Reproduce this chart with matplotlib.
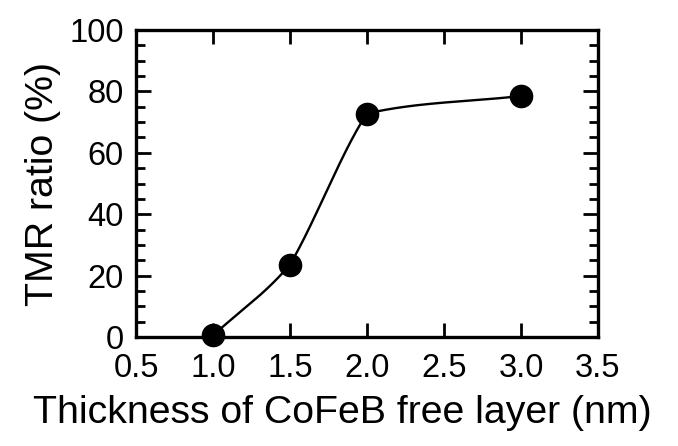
import numpy as np
import matplotlib
matplotlib.use('Agg')
import matplotlib.pyplot as plt
from matplotlib.ticker import MultipleLocator

# data
thickness = [1.0, 1.5, 2.0, 3.0]      # CoFeB free layer thickness (nm)
tmr_ratio = [0.5, 23.6, 72.8, 78.5]   # TMR ratio (%)


def smooth_curve(x, y, n=60, w=0.75):
    # piecewise cubic Hermite; one-sided tangents blended from secants
    x = np.asarray(x, float)
    y = np.asarray(y, float)
    sec = np.diff(y) / np.diff(x)
    xs, ys = [], []
    for i in range(len(x) - 1):
        m0 = sec[i] if i == 0 else w * sec[i] + (1 - w) * sec[i - 1]
        m1 = sec[i] if i == len(x) - 2 else w * sec[i] + (1 - w) * sec[i + 1]
        # keep the tangents from overshooting flat segments
        cap = 2 * abs(sec[i])
        m0 = np.clip(m0, -cap, cap)
        m1 = np.clip(m1, -cap, cap)
        h = x[i + 1] - x[i]
        t = np.linspace(0, 1, n)
        h00 = 2 * t**3 - 3 * t**2 + 1
        h10 = t**3 - 2 * t**2 + t
        h01 = -2 * t**3 + 3 * t**2
        h11 = t**3 - t**2
        xs.append(x[i] + t * h)
        ys.append(h00 * y[i] + h10 * h * m0 + h01 * y[i + 1] + h11 * h * m1)
    return np.concatenate(xs), np.concatenate(ys)


def main():
    plt.rcParams['font.family'] = ['Liberation Sans', 'DejaVu Sans']

    fig = plt.figure(figsize=(6.78, 4.46), dpi=100)
    ax = fig.add_axes([0.2006, 0.2444, 0.6814, 0.6883])

    cx, cy = smooth_curve(thickness, tmr_ratio)
    ax.plot(cx, cy, color='black', lw=1.7, zorder=2)
    ax.plot(thickness, tmr_ratio, 'o', color='black', ms=16, zorder=3,
            clip_on=False)

    ax.set_xlim(0.5, 3.5)
    ax.set_ylim(0, 100)
    ax.xaxis.set_major_locator(MultipleLocator(0.5))
    ax.yaxis.set_major_locator(MultipleLocator(20))
    ax.yaxis.set_minor_locator(MultipleLocator(5))
    ax.xaxis.set_major_formatter(plt.FormatStrFormatter('%.1f'))

    for s in ax.spines.values():
        s.set_linewidth(2.4)
    ax.tick_params(axis='both', which='both', direction='in',
                   top=True, right=True, width=2.0, labelsize=23.5)
    ax.tick_params(axis='x', which='major', length=10, pad=11.5)
    ax.tick_params(axis='y', which='major', length=11, pad=9)
    ax.tick_params(axis='y', which='minor', length=6.5)

    ax.set_xlabel('Thickness of CoFeB free layer (nm)', fontsize=28.3)
    ax.xaxis.set_label_coords(0.446, -0.19)
    ax.set_ylabel('TMR ratio (%)', fontsize=28.3, labelpad=6)

    plt.savefig('out.png', dpi=100)


if __name__ == '__main__':
    main()
